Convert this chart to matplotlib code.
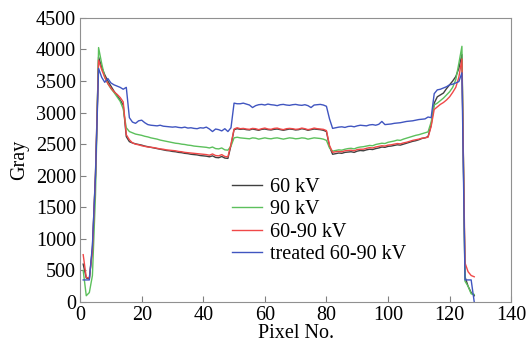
import numpy as np
import matplotlib.pyplot as plt

pixel = np.arange(1, 129)

kv60 = [600, 380, 370, 850, 2050, 3880, 3720, 3600, 3500, 3420,
        3340, 3270, 3200, 3120, 2620, 2540, 2520, 2505, 2495, 2485,
        2470, 2460, 2450, 2440, 2430, 2420, 2410, 2400, 2395, 2385,
        2380, 2370, 2365, 2355, 2350, 2340, 2335, 2330, 2320, 2315,
        2310, 2300, 2315, 2290, 2285, 2305, 2280, 2275, 2480, 2730,
        2745, 2735, 2740, 2730, 2725, 2740, 2730, 2720, 2735, 2740,
        2730, 2725, 2735, 2740, 2730, 2720, 2730, 2740, 2735, 2725,
        2730, 2745, 2735, 2720, 2730, 2740, 2735, 2730, 2720, 2700,
        2460, 2340, 2350, 2360, 2355, 2370, 2375, 2380, 2370, 2390,
        2400, 2395, 2410, 2420, 2415, 2430, 2440, 2455, 2450, 2465,
        2470, 2480, 2490, 2485, 2500, 2515, 2530, 2545, 2555, 2570,
        2590, 2600, 2620, 2800, 3150, 3250, 3280, 3310, 3380, 3440,
        3500, 3570, 3700, 3920, 400, 250, 150, 100]

kv90 = [500, 100, 150, 420, 1700, 4030, 3780, 3560, 3460, 3380,
        3320, 3250, 3180, 3060, 2760, 2700, 2680, 2660, 2650, 2640,
        2625, 2615, 2600, 2590, 2580, 2565, 2555, 2545, 2535, 2525,
        2515, 2510, 2500, 2495, 2485, 2480, 2470, 2465, 2460, 2455,
        2450, 2440, 2455, 2430, 2425, 2440, 2410, 2405, 2470, 2600,
        2610, 2600, 2595, 2590, 2585, 2600, 2595, 2580, 2590, 2600,
        2590, 2585, 2595, 2600, 2590, 2580, 2590, 2600, 2595, 2585,
        2590, 2600, 2595, 2580, 2590, 2600, 2595, 2590, 2580, 2560,
        2440, 2390, 2400, 2410, 2405, 2420, 2430, 2435, 2425, 2445,
        2455, 2460, 2470, 2480, 2475, 2495, 2505, 2515, 2510, 2530,
        2540, 2550, 2565, 2560, 2580, 2595, 2610, 2625, 2640, 2650,
        2665, 2680, 2695, 2850, 3120, 3150, 3190, 3230, 3280, 3330,
        3400, 3520, 3780, 4050, 330, 250, 130, 120]

kv6090 = [750, 390, 380, 800, 2000, 3830, 3680, 3560, 3460, 3390,
          3330, 3290, 3240, 3170, 2650, 2570, 2520, 2500, 2490, 2475,
          2465, 2455, 2450, 2445, 2435, 2425, 2420, 2410, 2405, 2400,
          2395, 2385, 2380, 2370, 2365, 2360, 2355, 2350, 2345, 2340,
          2335, 2325, 2345, 2320, 2315, 2335, 2305, 2300, 2500, 2740,
          2760, 2745, 2750, 2740, 2735, 2750, 2745, 2730, 2745, 2755,
          2740, 2735, 2750, 2755, 2740, 2730, 2745, 2750, 2745, 2735,
          2740, 2755, 2745, 2730, 2740, 2755, 2745, 2740, 2735, 2715,
          2480, 2370, 2380, 2385, 2380, 2395, 2400, 2405, 2395, 2415,
          2420, 2420, 2435, 2445, 2440, 2455, 2465, 2475, 2470, 2485,
          2490, 2500, 2510, 2505, 2520, 2530, 2545, 2560, 2570, 2580,
          2595, 2600, 2610, 2780, 3050, 3090, 3130, 3160, 3200, 3250,
          3320, 3400, 3560, 3850, 620, 480, 420, 400]

treated = [350, 350, 350, 900, 2000, 3700, 3560, 3480, 3540, 3470,
           3440, 3420, 3400, 3370, 3400, 2920, 2850, 2830, 2870, 2880,
           2840, 2810, 2800, 2795, 2790, 2800, 2785, 2780, 2775, 2770,
           2775, 2765, 2760, 2770, 2755, 2760, 2750, 2745, 2760, 2755,
           2770, 2740, 2700, 2740, 2730, 2710, 2745, 2700, 2760, 3150,
           3140, 3140, 3150, 3135, 3120, 3080, 3110, 3125, 3130, 3120,
           3135, 3125, 3120, 3110, 3125, 3130, 3120, 3115, 3125, 3130,
           3120, 3115, 3125, 3110, 3080, 3120, 3125, 3130, 3120, 3100,
           2900, 2750, 2760, 2770, 2775, 2765, 2780, 2785, 2775, 2790,
           2800, 2795, 2790, 2805, 2810, 2800, 2815, 2860, 2810, 2815,
           2820, 2830, 2835, 2840, 2850, 2860, 2865, 2870, 2880, 2890,
           2895, 2900, 2930, 2920, 3300, 3360, 3370, 3390, 3410, 3440,
           3450, 3470, 3490, 3630, 350, 350, 350, 0]

plt.rcParams['font.family'] = ['Liberation Serif', 'DejaVu Serif']
plt.rcParams['font.size'] = 14.5

fig = plt.figure(figsize=(5.27, 3.44), dpi=100)
ax = fig.add_axes([0.152, 0.122, 0.818, 0.826])

ax.plot(pixel, kv60, color="#404040", lw=1.0, label="60 kV")
ax.plot(pixel, kv90, color="#5cc05c", lw=1.0, label="90 kV")
ax.plot(pixel, kv6090, color="#f04848", lw=1.0, label="60-90 kV")
ax.plot(pixel, treated, color="#4055c0", lw=1.0, label="treated 60-90 kV")

ax.set_xlim(0, 140)
ax.set_ylim(0, 4500)
ax.set_xticks(np.arange(0, 141, 20))
ax.set_yticks(np.arange(0, 4501, 500))
ax.tick_params(direction="in", length=4, color="#808080", pad=3)
for s in ax.spines.values():
    s.set_color("#909090")

ax.set_xlabel("Pixel No.", labelpad=-1)
ax.set_ylabel("Gray", labelpad=5)

ax.legend(loc="lower left", bbox_to_anchor=(0.353, 0.135), frameon=False,
          handlelength=1.5, handletextpad=0.35, labelspacing=0.15,
          borderpad=0, borderaxespad=0)

fig.savefig("out.png", dpi=100)
